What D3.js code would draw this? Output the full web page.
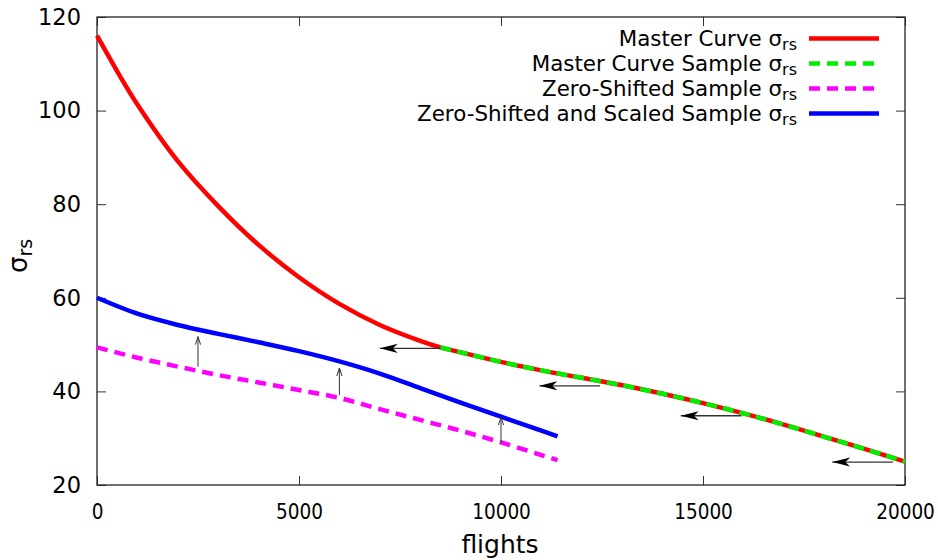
<!DOCTYPE html>
<html>
<head>
<meta charset="utf-8">
<script src="https://cdn.jsdelivr.net/npm/d3@7"></script>
<style>
  html, body { margin: 0; padding: 0; background: #fff; }
  svg { display: block; font-family: "DejaVu Sans", sans-serif; }
</style>
</head>
<body>
<svg id="chart" width="938" height="560"></svg>
<script>
// ---------- data ----------
const masterFlights = [0, 500, 1000, 2000, 3000, 4000, 5000, 6000, 7000, 8000, 8500];
const masterSigma   = [116, 108.4, 101.3, 89.2, 79.6, 71.3, 64.4, 58.7, 54.2, 50.8, 49.4];

const sampleFlights = [8500, 9000, 10000, 11000, 12000, 13000, 14000, 15000, 16000, 17000, 18000, 19000, 20000];
const sampleSigma   = [49.4, 48.35, 46.3, 44.5, 42.9, 41.3, 39.5, 37.5, 35.3, 32.9, 30.3, 27.7, 25.0];

const shiftedFlights = [0, 1000, 2000, 3000, 4000, 5000, 6000, 7000, 8000, 9000, 10000, 11000, 11400];
const shiftedSigma   = [49.4, 47.2, 45.3, 43.5, 41.9, 40.3, 38.6, 36.2, 33.9, 31.6, 29.1, 26.4, 25.3];

const scaledFlights = [0, 1000, 2000, 3000, 4000, 5000, 6000, 7000, 8000, 9000, 10000, 11000, 11400];
const scaledSigma   = [60.0, 56.6, 54.2, 52.3, 50.5, 48.6, 46.4, 43.8, 40.7, 37.6, 34.6, 31.6, 30.4];

// horizontal (shift) arrows
const hArrowFrom = [8500, 12450, 15950, 19700];
const hArrowTo   = [7000, 10950, 14450, 18200];
const hArrowY    = [49.2, 41.2, 34.8, 24.9];

// vertical (scale) arrows
const vArrowX    = [2500, 6000, 10000];
const vArrowFrom = [45.3, 39.2, 29.0];
const vArrowTo   = [51.7, 45.0, 34.5];

const xTicks = [0, 5000, 10000, 15000, 20000];
const yTicks = [20, 40, 60, 80, 100, 120];

const legendLabels = ["Master Curve σ", "Master Curve Sample σ", "Zero-Shifted Sample σ", "Zero-Shifted and Scaled Sample σ"];
const legendSub = "rs";
const xTitle = "flights";

// ---------- layout ----------
const L = 97, R = 905, T = 17, B = 485;
const svg = d3.select("#chart");
const x = d3.scaleLinear().domain([0, 20000]).range([L, R]);
const y = d3.scaleLinear().domain([20, 120]).range([B, T]);

const zip = (xs, ys) => xs.map((v, i) => [v, ys[i]]);
const line = d3.line().x(d => x(d[0])).y(d => y(d[1])).curve(d3.curveCatmullRom.alpha(0.5));

// defs: arrow markers
const defs = svg.append("defs");
defs.append("marker")
  .attr("id", "bigHead").attr("markerUnits", "userSpaceOnUse")
  .attr("markerWidth", 20).attr("markerHeight", 12)
  .attr("viewBox", "0 -6 20 12").attr("refX", 18).attr("refY", 0)
  .attr("orient", "auto")
  .append("path").attr("d", "M0,-4.6L18,0L0,4.6L5,0Z").attr("fill", "#000");
defs.append("marker")
  .attr("id", "smallHead").attr("markerUnits", "userSpaceOnUse")
  .attr("markerWidth", 10).attr("markerHeight", 8)
  .attr("viewBox", "0 -4 10 8").attr("refX", 8).attr("refY", 0)
  .attr("orient", "auto")
  .append("path").attr("d", "M0,-2.6L8,0L0,2.6").attr("fill", "none")
  .attr("stroke", "#333").attr("stroke-width", 1);

// ---------- axes ----------
const axisFont = size => g => g.selectAll("text").attr("font-family", "DejaVu Sans").attr("font-size", size).attr("fill", "#000");
const axisStyle = g => {
  g.select(".domain").remove();
  g.selectAll(".tick line").attr("stroke", "#333").attr("stroke-width", 1);
};

svg.append("g").attr("transform", `translate(0,${B})`)
  .call(d3.axisBottom(x).tickValues(xTicks).tickSize(-9).tickPadding(19).tickFormat(d3.format("d")))
  .call(axisStyle).call(axisFont(21))
  .call(g => g.selectAll("text").attr("transform", "scale(0.88,1)"));
svg.append("g").attr("transform", `translate(0,${T})`)
  .call(d3.axisTop(x).tickValues(xTicks).tickSize(-9).tickFormat(""))
  .call(axisStyle);
svg.append("g").attr("transform", `translate(${L},0)`)
  .call(d3.axisLeft(y).tickValues(yTicks).tickSize(-9).tickPadding(16).tickFormat(d3.format("d")))
  .call(axisStyle).call(axisFont(22.5));
svg.append("g").attr("transform", `translate(${R},0)`)
  .call(d3.axisRight(y).tickValues(yTicks).tickSize(-9).tickFormat(""))
  .call(axisStyle);

svg.append("rect").attr("x", L).attr("y", T).attr("width", R - L).attr("height", B - T)
  .attr("fill", "none").attr("stroke", "#222").attr("stroke-width", 1.3);

// axis titles
svg.append("text").attr("x", (L + R) / 2 - 1).attr("y", 553).attr("text-anchor", "middle")
  .attr("font-size", 25).text(xTitle);
const yt = svg.append("text").attr("transform", "translate(27,256) rotate(-90)")
  .attr("text-anchor", "middle").attr("font-size", 26);
yt.append("tspan").text("σ");
yt.append("tspan").attr("font-size", 19).attr("dy", 5).text(legendSub);

// ---------- series ----------
const masterAll = zip(masterFlights, masterSigma).concat(zip(sampleFlights, sampleSigma).slice(1));
const plot = svg.append("g");
plot.append("path").datum(masterAll).attr("d", line)
  .attr("fill", "none").attr("stroke", "#ff0000").attr("stroke-width", 4.5);
plot.append("path").datum(zip(sampleFlights, sampleSigma)).attr("d", line)
  .attr("fill", "none").attr("stroke", "#00ee00").attr("stroke-width", 4.5)
  .attr("stroke-dasharray", "11,6");
plot.append("path").datum(zip(shiftedFlights, shiftedSigma)).attr("d", line)
  .attr("fill", "none").attr("stroke", "#ff00ff").attr("stroke-width", 4.5)
  .attr("stroke-dasharray", "11,7");
plot.append("path").datum(zip(scaledFlights, scaledSigma)).attr("d", line)
  .attr("fill", "none").attr("stroke", "#0000ff").attr("stroke-width", 4.5);

// arrows
plot.selectAll(".harrow").data(hArrowFrom).enter().append("line")
  .attr("x1", (d) => x(d)).attr("x2", (d, i) => x(hArrowTo[i]))
  .attr("y1", (d, i) => y(hArrowY[i])).attr("y2", (d, i) => y(hArrowY[i]))
  .attr("stroke", "#333").attr("stroke-width", 1.3).attr("marker-end", "url(#bigHead)");
plot.selectAll(".varrow").data(vArrowX).enter().append("line")
  .attr("x1", d => x(d)).attr("x2", d => x(d))
  .attr("y1", (d, i) => y(vArrowFrom[i])).attr("y2", (d, i) => y(vArrowTo[i]))
  .attr("stroke", "#333").attr("stroke-width", 1).attr("marker-end", "url(#smallHead)");

// ---------- legend ----------
const legendColors = ["#ff0000", "#00ee00", "#ff00ff", "#0000ff"];
const legendDash = [null, "11,7", "11,7", null];
const lg = svg.append("g");
legendLabels.forEach((lab, i) => {
  const ly = 38.5 + i * 25;
  const t = lg.append("text").attr("x", 797).attr("y", ly + 7.5).attr("text-anchor", "end")
    .attr("font-size", 21.4);
  t.append("tspan").text(lab);
  t.append("tspan").attr("font-size", 16).attr("dy", 4).text(legendSub);
  lg.append("line").attr("x1", 809).attr("x2", 879).attr("y1", ly).attr("y2", ly)
    .attr("stroke", legendColors[i]).attr("stroke-width", 4.5)
    .attr("stroke-dasharray", legendDash[i]);
});
</script>
</body>
</html>
